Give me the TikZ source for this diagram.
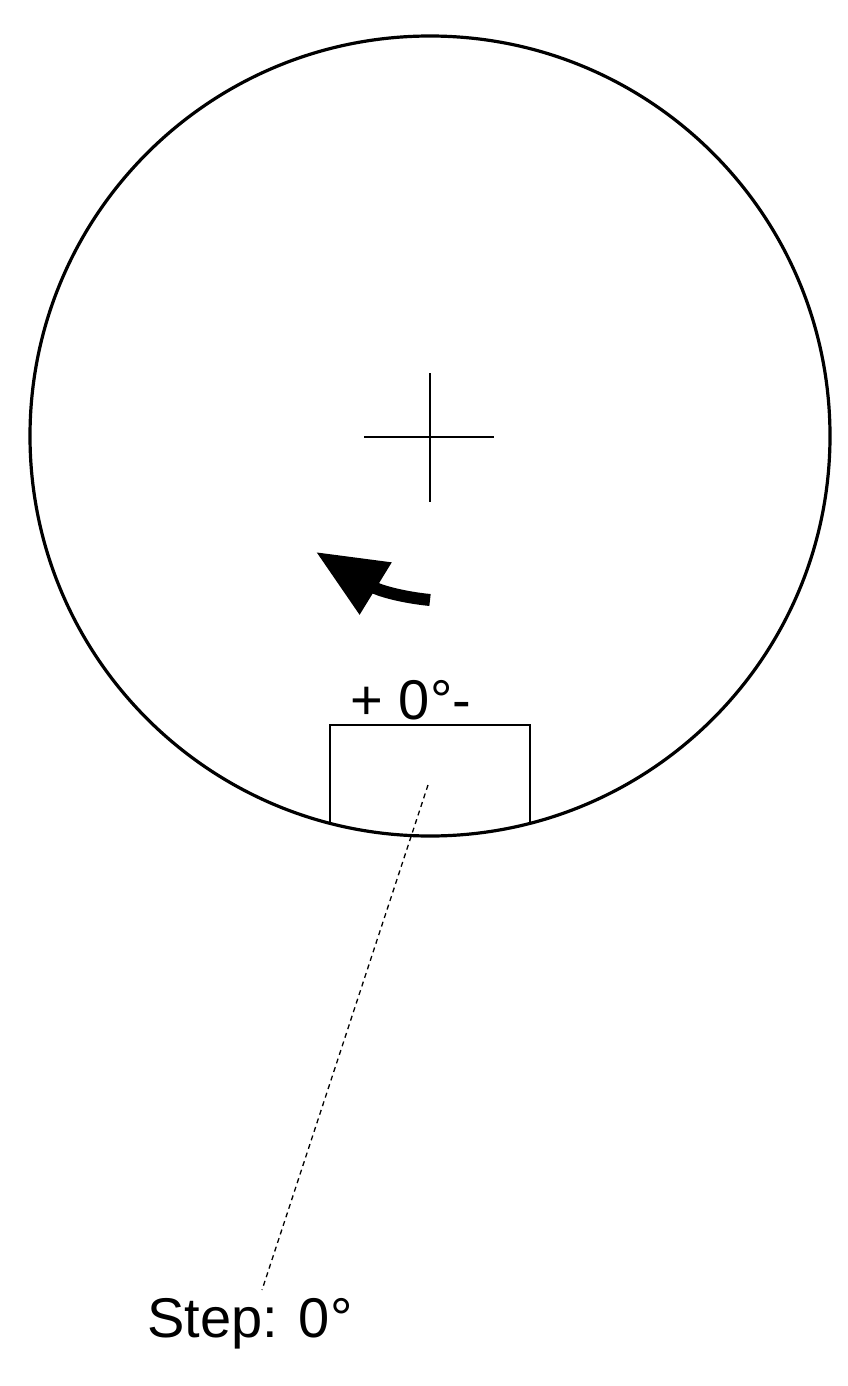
\documentclass[tikz,border=0pt]{standalone}
\usepackage{fontspec}
\setmainfont{Liberation Sans}
\usetikzlibrary{arrows.meta}

\begin{document}
\begin{tikzpicture}[x=1pt, y=-1pt]
\useasboundingbox (0,0) rectangle (848,1386);
\tikzset{
  dial/.style={line width=3.2pt},
  thinline/.style={line width=1.8pt},
  label/.style={font=\fontsize{56}{60}\selectfont, inner sep=0pt}
}
% Dial and centre mark
\draw[dial] (430,436) circle (400);
\draw[thinline] (364,437) -- (494,437);
\draw[thinline] (430,373) -- (430,502);
% Rotation arrow
\draw[line width=12pt, -{Triangle[length=70pt, width=58pt]}]
  (430,600) .. controls (400,597) and (378,590) .. (316,552);
% Window on the rim
\draw[thinline] (330,823) -- (330,725) -- (530,725) -- (530,823);
\node[label, anchor=base] (offset) at (411,719) {+ 0°-};
\coordinate (pointer) at (428,785);
% Step readout
\node[label, anchor=base] (step) at (250,1337) {Step: 0°};
\coordinate (stepend) at (262,1290);
\draw[dashed, line width=1.3pt, dash pattern=on 5pt off 4pt] (pointer) -- (stepend);
\end{tikzpicture}
\end{document}
